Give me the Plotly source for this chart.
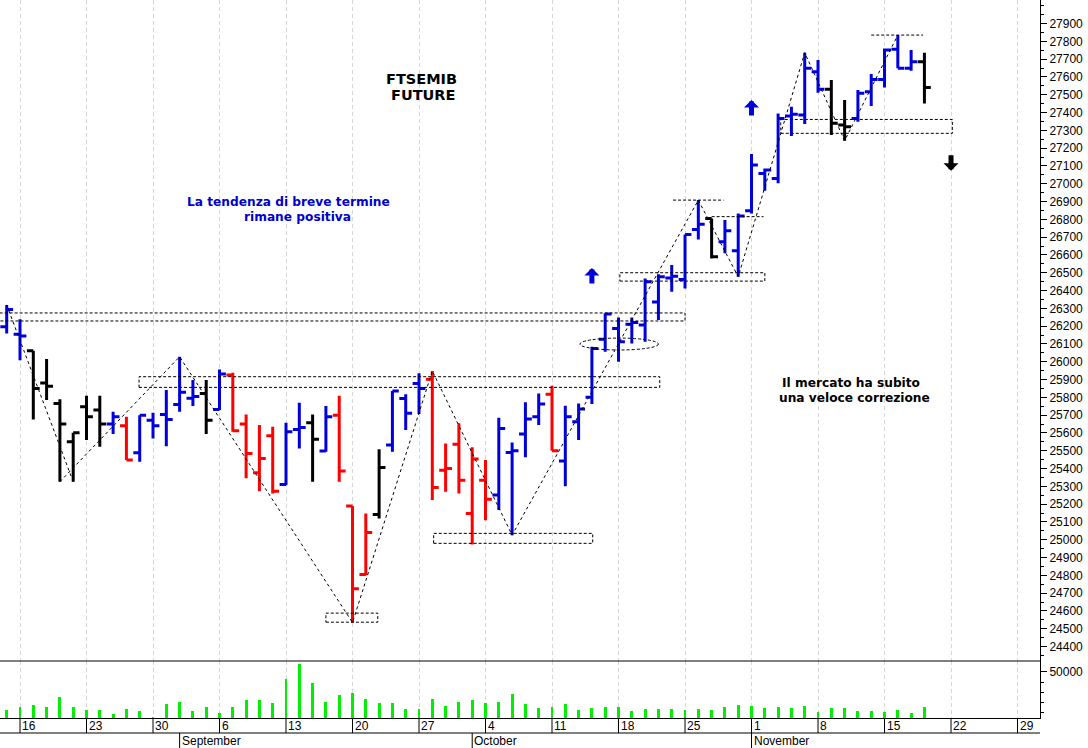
import numpy as np
import plotly.graph_objects as go

# ---------------- data ----------------
dates = [
    "2021-08-13",
    "2021-08-16", "2021-08-17", "2021-08-18", "2021-08-19", "2021-08-20",
    "2021-08-23", "2021-08-24", "2021-08-25", "2021-08-26", "2021-08-27",
    "2021-08-30", "2021-08-31", "2021-09-01", "2021-09-02", "2021-09-03",
    "2021-09-06", "2021-09-07", "2021-09-08", "2021-09-09", "2021-09-10",
    "2021-09-13", "2021-09-14", "2021-09-15", "2021-09-16", "2021-09-17",
    "2021-09-20", "2021-09-21", "2021-09-22", "2021-09-23", "2021-09-24",
    "2021-09-27", "2021-09-28", "2021-09-29", "2021-09-30", "2021-10-01",
    "2021-10-04", "2021-10-05", "2021-10-06", "2021-10-07", "2021-10-08",
    "2021-10-11", "2021-10-12", "2021-10-13", "2021-10-14", "2021-10-15",
    "2021-10-18", "2021-10-19", "2021-10-20", "2021-10-21", "2021-10-22",
    "2021-10-25", "2021-10-26", "2021-10-27", "2021-10-28", "2021-10-29",
    "2021-11-01", "2021-11-02", "2021-11-03", "2021-11-04", "2021-11-05",
    "2021-11-08", "2021-11-09", "2021-11-10", "2021-11-11", "2021-11-12",
    "2021-11-15", "2021-11-16", "2021-11-17", "2021-11-18",
]
opens = [26197,
         26155, 26062, 25880, 25766, 25551,
         25747, 25729, 25650, 25641, 25489,
         25672, 25704, 25760, 25795, 25822,
         25732, 25925, 25650, 25376, 25584,
         25311, 25620, 25657, 25498, 25700,
         25189, 24805, 25142, 25532, 25794,
         25878, 25901, 25390, 25537, 25148,
         25335, 25251, 25490, 25594, 25691,
         25818, 25442, 25663, 25800, 26126,
         26187, 26210, 26206, 26335, 26470,
         26462, 26743, 26805, 26674, 26624,
         26848, 27058, 27030, 27380, 27386,
         27629, 27530, 27330, 27367, 27517,
         27586, 27755, 27648, 27685]
highs = [26319,
         26238, 26062, 26015, 25789, 25601,
         25809, 25809, 25719, 25691, 25700,
         25714, 25841, 26028, 25897, 25897,
         25957, 25938, 25704, 25644, 25635,
         25657, 25770, 25704, 25751, 25809,
         25189, 25148, 25509, 25835, 25817,
         25935, 25948, 25541, 25654, 25519,
         25448, 25685, 25547, 25772, 25822,
         25865, 25753, 25766, 26084, 26272,
         26249, 26249, 26468, 26492, 26543,
         26715, 26908, 26805, 26796, 26833,
         27167, 27086, 27395, 27433, 27736,
         27695, 27582, 27470, 27526, 27616,
         27760, 27835, 27751, 27736]
lows = [26159,
        26009, 25676, 25785, 25326, 25326,
        25560, 25523, 25594, 25448, 25438,
        25569, 25526, 25719, 25751, 25594,
        25729, 25607, 25345, 25273, 25260,
        25307, 25513, 25326, 25494, 25326,
        24535, 24801, 25120, 25494, 25616,
        25706, 25223, 25270, 25260, 24974,
        25110, 25167, 25026, 25463, 25644,
        25500, 25301, 25560, 25762, 26056,
        26000, 26103, 26112, 26234, 26393,
        26412, 26687, 26580, 26609, 26477,
        26833, 26961, 27002, 27268, 27335,
        27511, 27273, 27242, 27348, 27436,
        27541, 27648, 27635, 27451]
closes = [26294,
          26145, 25850, 25863, 25650, 25601,
          25691, 25650, 25691, 25448, 25700,
          25641, 25676, 25828, 25805, 25672,
          25931, 25612, 25485, 25457, 25273,
          25607, 25630, 25564, 25691, 25386,
          24725, 25041, 25406, 25835, 25710,
          25850, 25294, 25400, 25335, 25453,
          25228, 25625, 25500, 25678, 25762,
          25500, 25691, 25734, 26075, 26268,
          26112, 26220, 26449, 26477, 26480,
          26715, 26773, 26590, 26736, 26818,
          27105, 27077, 27367, 27390, 27648,
          27530, 27339, 27320, 27508, 27586,
          27751, 27648, 27685, 27541]
# trend signal per bar: B = positive (blue), R = negative (red), K = neutral (black)
signal = list("B" "BKKKK" "KKBRB" "BBBBK" "BRRRR" "BBKBR" "RRKBB"
              "BRRRR" "RBBBB" "RBBBB" "BBBBB" "BBKBB" "BBBBB" "BKKBB" "BBBK")
volumes = [12500,
           15400, 17400, 15700, 25500, 15400,
           12500, 12500, 9200, 13500, 11800,
           6000, 18400, 20600, 11800, 15400,
           10200, 15400, 22900, 22900, 19600,
           43300, 57700, 39100, 20600, 27700,
           29400, 23800, 19600, 19600, 13800,
           13800, 23500, 16400, 20300, 22900,
           19600, 20900, 28700, 18700, 14800,
           15700, 18700, 12500, 14800, 15700,
           15700, 11500, 13800, 13800, 13800,
           12500, 13800, 12500, 15700, 17700,
           16400, 14500, 15400, 14500, 16400,
           10900, 14800, 14800, 11800, 11800,
           11100, 12800, 10200, 15700]

# swing points for the zig-zag (date, which extreme); None breaks the line
swings = [("2021-08-13", "H"), ("2021-08-20", "L"), None,
          ("2021-08-19", "L"), ("2021-09-01", "H"), ("2021-09-20", "L"),
          ("2021-09-28", "H"), ("2021-10-06", "L"), ("2021-10-26", "H"),
          ("2021-10-29", "L"), ("2021-11-05", "H"), ("2021-11-10", "L"),
          ("2021-11-16", "H")]

# support / resistance zones: (start date, end date, low price, high price)
zones = [("2021-08-12", "2021-10-25", 26229, 26274),
         ("2021-08-27", "2021-10-21", 25856, 25916),
         ("2021-09-28", "2021-10-14", 24980, 25036),
         ("2021-09-16", "2021-09-22", 24537, 24588),
         ("2021-10-18", "2021-11-02", 26453, 26500),
         ("2021-11-03", "2021-11-22", 27283, 27361)]
levels = [("2021-10-22", "2021-10-28", 26908),
          ("2021-10-27", "2021-11-02", 26815),
          ("2021-11-12", "2021-11-18", 27835)]
ellipse = ("2021-10-13", "2021-10-21", 26066, 26133)

arrows = [("2021-10-14", 26526, "up"), ("2021-11-01", 27470, "up"), ("2021-11-22", 27073, "down")]

tick_dates = ["2021-08-16", "2021-08-23", "2021-08-30", "2021-09-06", "2021-09-13",
              "2021-09-20", "2021-09-27", "2021-10-04", "2021-10-11", "2021-10-18",
              "2021-10-25", "2021-11-01", "2021-11-08", "2021-11-15", "2021-11-22",
              "2021-11-29"]
month_starts = ["2021-09-01", "2021-10-01", "2021-11-01"]
month_names = ["September", "October", "November"]

price_ticks = list(range(24400, 28000, 100))

# ---------------- scales ----------------
D0 = np.datetime64(dates[0])


def pos(d):
    """trading-day position on the x axis (weekends removed)."""
    d = np.datetime64(d)
    return float(np.busday_count(D0, d)) if d >= D0 else -float(np.busday_count(d, D0))


xk = [pos(d) for d in dates]
idx_of = {d: i for i, d in enumerate(dates)}

BLUE, RED, BLACK, GREEN = "#0000dd", "#ff0000", "#000000", "#00ee00"
colmap = {"B": BLUE, "R": RED, "K": BLACK}

fig = go.Figure()
for code, col in colmap.items():
    sel = [i for i, s in enumerate(signal) if s == code]
    fig.add_trace(go.Ohlc(
        x=[xk[i] for i in sel], open=[opens[i] for i in sel], high=[highs[i] for i in sel],
        low=[lows[i] for i in sel], close=[closes[i] for i in sel],
        increasing=dict(line=dict(color=col, width=3)),
        decreasing=dict(line=dict(color=col, width=3)),
        tickwidth=0.48, hoverinfo="skip", xaxis="x", yaxis="y", showlegend=False))

# zig-zag
zx, zy = [], []
for s in swings:
    if s is None:
        zx.append(None); zy.append(None); continue
    d, t = s
    i = idx_of[d]
    zx.append(xk[i]); zy.append(highs[i] if t == "H" else lows[i])
fig.add_trace(go.Scatter(x=zx, y=zy, mode="lines", line=dict(color="black", width=1, dash="3px,3px"),
                         hoverinfo="skip", xaxis="x", yaxis="y", showlegend=False, connectgaps=False))

# volume
fig.add_trace(go.Bar(x=xk, y=volumes, width=0.22, marker=dict(color=GREEN, line=dict(width=0)),
                     hoverinfo="skip", xaxis="x", yaxis="y2", showlegend=False))

DASH = dict(color="black", width=1, dash="3px,2px")
zone_pad = [(-0.6, 0.0), (-0.05, 0.1), (0.1, 0.06), (0.0, -0.1), (0.1, 0.0), (0.2, 0.1)]
shapes = []
for (d0, d1, lo, hi), (p0, p1) in zip(zones, zone_pad):
    shapes.append(dict(type="rect", xref="x", yref="y", x0=pos(d0) + p0, x1=pos(d1) + p1, y0=lo, y1=hi,
                       line=DASH, fillcolor="rgba(0,0,0,0)"))
level_pad = [(0.1, -0.1), (0.0, -0.1), (0.0, -0.1)]
for (d0, d1, p), (p0, p1) in zip(levels, level_pad):
    shapes.append(dict(type="line", xref="x", yref="y", x0=pos(d0) + p0, x1=pos(d1) + p1, y0=p, y1=p,
                       line=DASH))
shapes.append(dict(type="circle", xref="x", yref="y", x0=pos(ellipse[0]) + 0.1, x1=pos(ellipse[1]),
                   y0=ellipse[2], y1=ellipse[3], line=DASH))

VOL_FR = 57 / 718
# panel separator and date rows
shapes.append(dict(type="line", xref="paper", yref="paper", x0=0, x1=1, y0=VOL_FR, y1=VOL_FR,
                   line=dict(color="black", width=1)))
shapes.append(dict(type="line", xref="paper", yref="paper", x0=0, x1=1, y0=-15 / 718, y1=-15 / 718,
                   line=dict(color="black", width=1)))
for d in tick_dates:
    shapes.append(dict(type="line", xref="x", yref="paper", x0=pos(d), x1=pos(d), y0=0, y1=-15 / 718,
                       line=dict(color="black", width=1)))
for d in month_starts:
    shapes.append(dict(type="line", xref="x", yref="paper", x0=pos(d), x1=pos(d), y0=-15 / 718, y1=-30 / 718,
                       line=dict(color="black", width=1)))

LAB = dict(family="Liberation Sans, Arial", size=12, color="black")
ann = []
for d in tick_dates:
    ann.append(dict(x=pos(d), y=-7.5 / 718, xref="x", yref="paper", text=str(int(d[-2:])),
                    showarrow=False, xanchor="left", yanchor="middle", xshift=0, font=LAB))
for d, name in zip(month_starts, month_names):
    ann.append(dict(x=pos(d), y=-22.5 / 718, xref="x", yref="paper", text=name,
                    showarrow=False, xanchor="left", yanchor="middle", xshift=0, font=LAB))

for d, p, direction in arrows:
    col = BLUE if direction == "up" else BLACK
    ann.append(dict(x=pos(d), y=p, xref="x", yref="y", text="", showarrow=True,
                    ax=0, ay=17 if direction == "up" else -17, arrowhead=1, arrowsize=0.5,
                    arrowwidth=5, arrowcolor=col, standoff=0))


def txt(px, py, s, color, size):
    return dict(x=px / 1040, y=(718 - py) / 718, xref="paper", yref="paper", text="<b>" + s + "</b>",
                showarrow=False, xanchor="center", yanchor="middle",
                font=dict(family="DejaVu Sans, Verdana, sans-serif", size=size, color=color))


ann += [txt(421, 78.5, "FTSEMIB", "black", 14.5), txt(423, 95, "FUTURE", "black", 14.5),
        txt(288, 201.5, "La tendenza di breve termine", "#0000cc", 12.2),
        txt(297.5, 217.5, "rimane positiva", "#0000cc", 12.2),
        txt(851, 383, "Il mercato ha subito", "black", 12.2),
        txt(854, 397.5, "una veloce correzione", "black", 12.2)]

fig.update_layout(
    width=1088, height=748, margin=dict(l=0, r=48, t=0, b=30, pad=0),
    paper_bgcolor="white", plot_bgcolor="white", showlegend=False,
    xaxis=dict(range=[-0.504, 77.69], tickvals=[pos(d) for d in tick_dates], showticklabels=False, ticks="",
               showgrid=True, gridcolor="#d6d6d6", griddash="4px,3px", gridwidth=1,
               showline=True, linecolor="black", linewidth=1, zeroline=False,
               rangeslider=dict(visible=False), anchor="y2", fixedrange=True),
    yaxis=dict(domain=[VOL_FR, 1], range=[24319, 28032], side="right", anchor="x",
               tickvals=price_ticks, ticktext=[str(v) for v in price_ticks],
               ticks="outside", ticklen=6, tickcolor="black",
               showline=True, linecolor="black", showgrid=False, zeroline=False, tickfont=LAB,
               minor=dict(tickvals=[v + 50 for v in range(24300, 28000, 100)] + [28000], ticks="outside",
                          ticklen=3, tickcolor="black"), fixedrange=True),
    yaxis2=dict(domain=[0, VOL_FR], range=[5000, 60600], side="right", anchor="x",
                tickvals=[50000], ticktext=["50000"], ticks="outside", ticklen=6, tickcolor="black",
                showline=True, linecolor="black", showgrid=False, zeroline=False, tickfont=LAB,
                minor=dict(tickvals=[10000, 20000, 30000, 40000], ticks="outside", ticklen=3,
                           tickcolor="black"), fixedrange=True),
    shapes=shapes, annotations=ann, bargap=0,
)

fig.write_html("out.html", config={"displayModeBar": False},
               post_script="document.body.style.margin='0px';document.body.style.overflow='hidden';")
